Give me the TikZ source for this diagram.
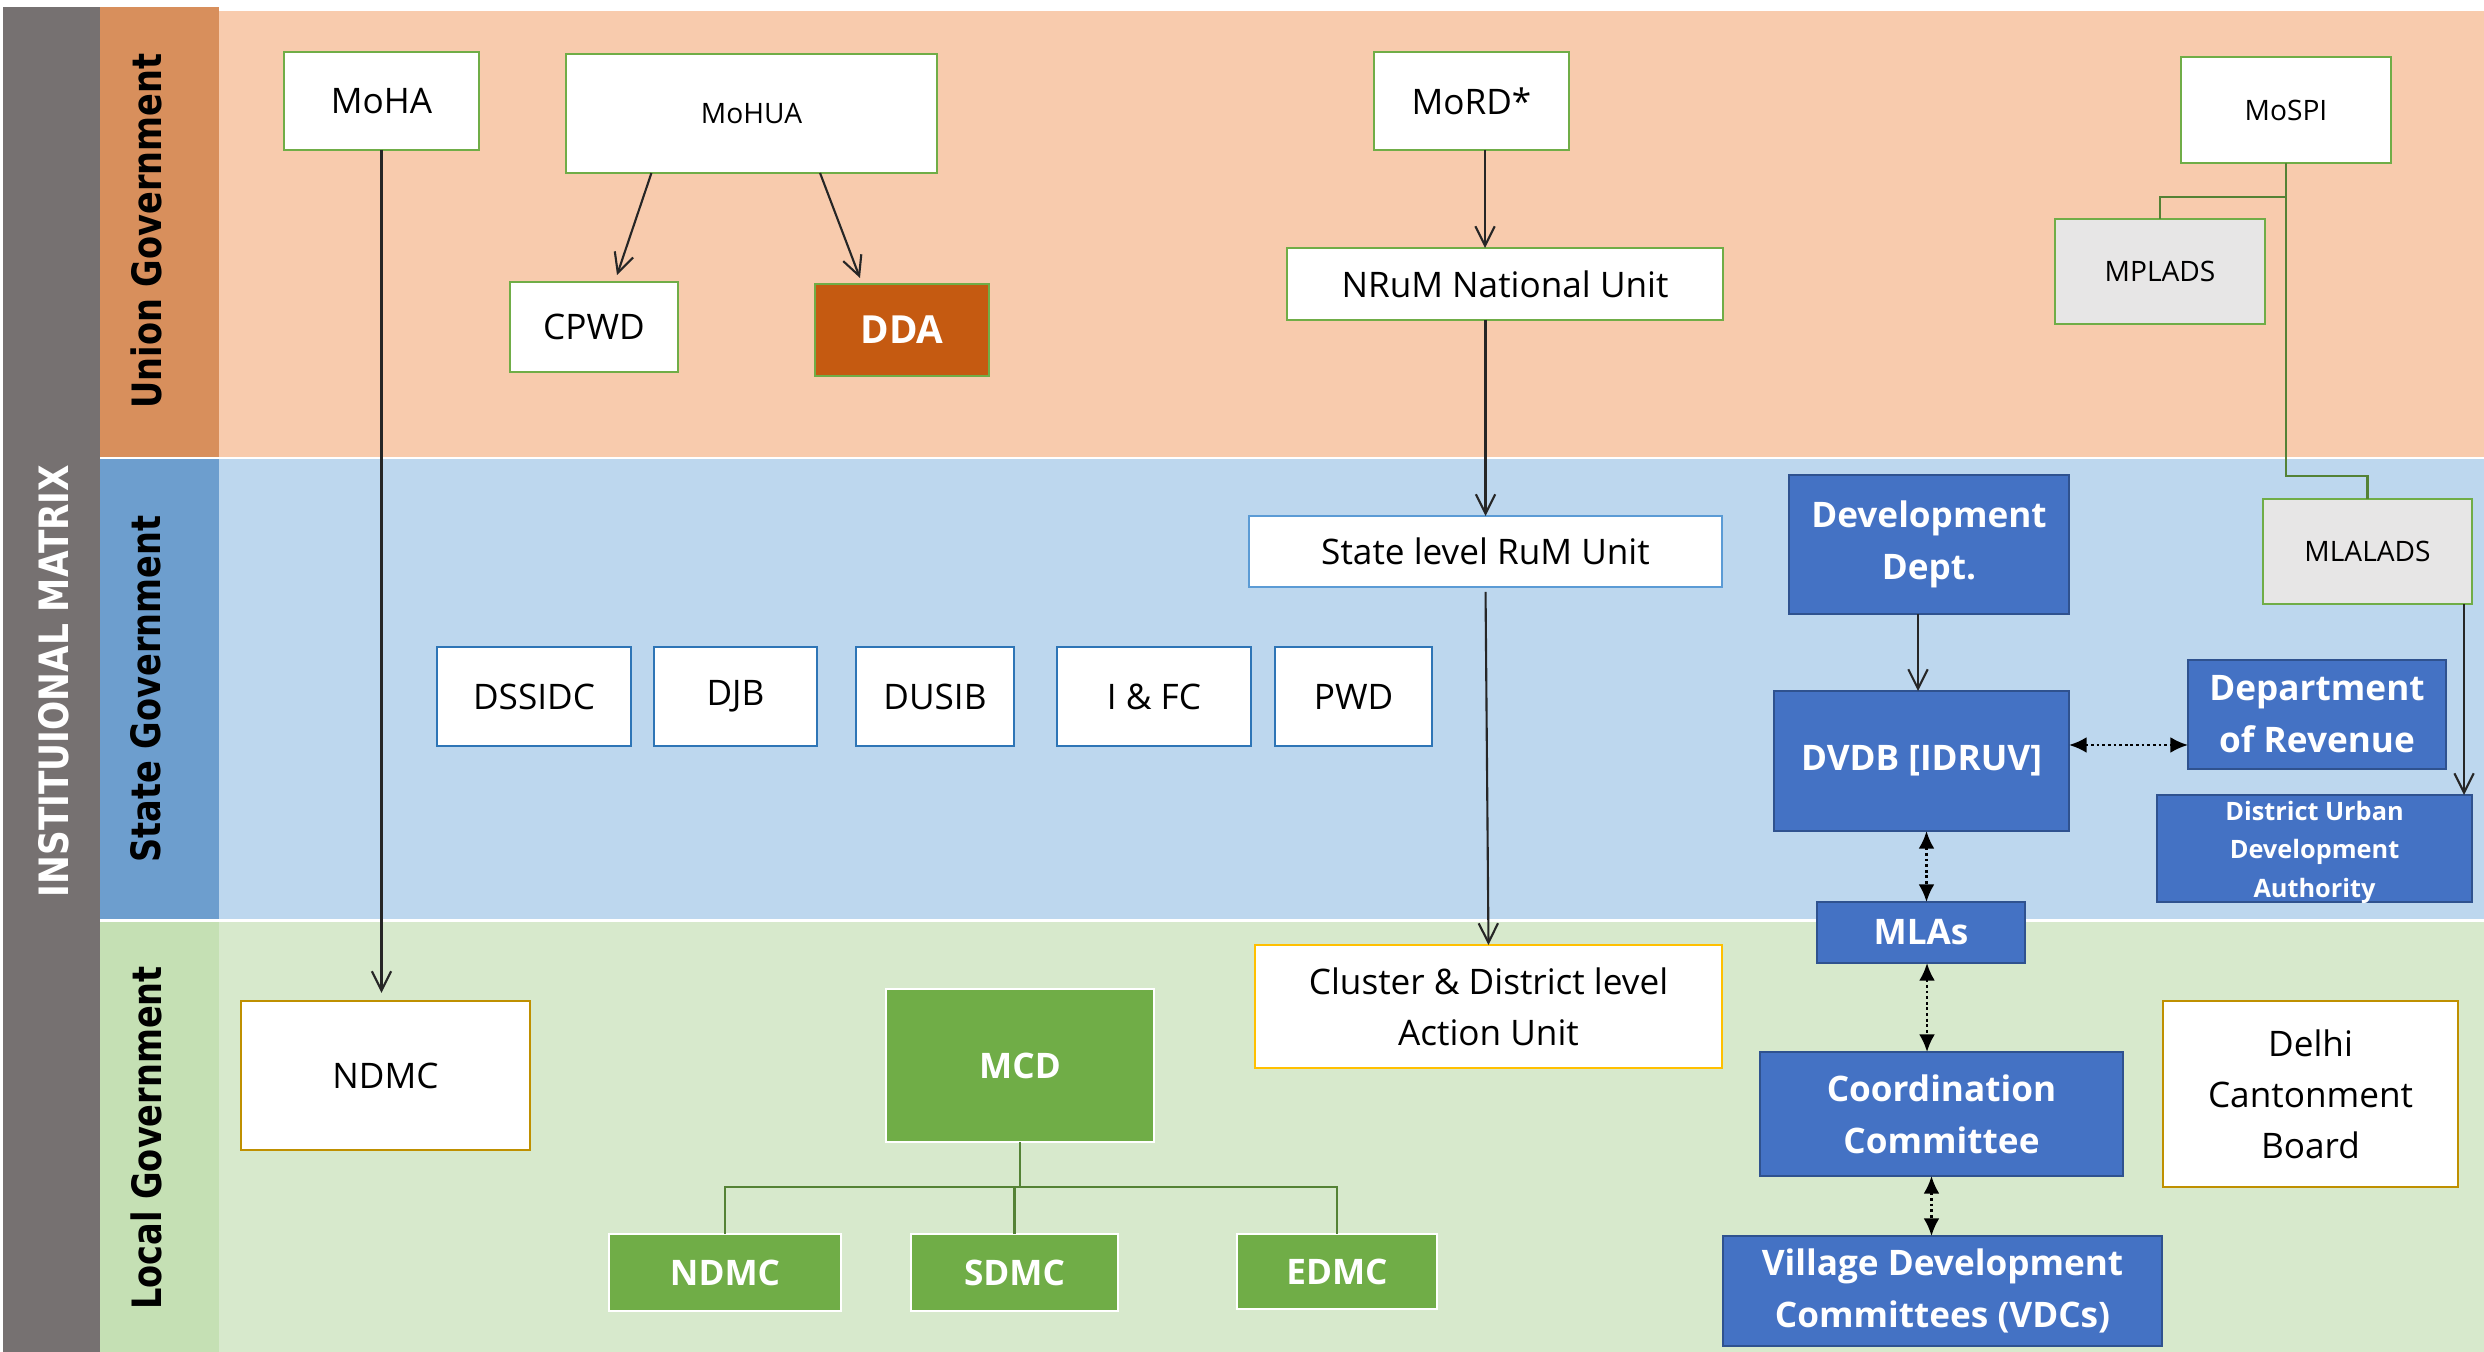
\documentclass[tikz,border=0pt]{standalone}
\usepackage{fontspec}
\setmainfont{Open Sans}
\newfontfamily\vfont{DejaVu Sans}
\usetikzlibrary{arrows.meta,calc}
\definecolor{cgrey}{HTML}{767171}
\definecolor{uL}{HTML}{D88F5C}
\definecolor{uB}{HTML}{F8CBAD}
\definecolor{sL}{HTML}{6D9ECE}
\definecolor{sB}{HTML}{BDD7EE}
\definecolor{lL}{HTML}{C5E0B4}
\definecolor{lB}{HTML}{D7E9CC}
\definecolor{gbord}{HTML}{70AD47}
\definecolor{gline}{HTML}{548235}
\definecolor{ddafill}{HTML}{C55A11}
\definecolor{sbord}{HTML}{2E75B6}
\definecolor{rbord}{HTML}{5B9BD5}
\definecolor{bfill}{HTML}{4472C4}
\definecolor{bbord}{HTML}{2F528F}
\definecolor{lbord}{HTML}{BF9000}
\definecolor{cbord}{HTML}{FFC000}
\definecolor{lgfill}{HTML}{E7E6E6}
\newcommand\fsA{\fontsize{10}{14.5}\selectfont}
\newcommand\fsB{\fontsize{8}{10}\selectfont}
\newcommand\fsC{\fontsize{10}{14.8}\selectfont\bfseries}
\newcommand\fsD{\fontsize{7.2}{10.9}\selectfont\bfseries}
\newcommand\fsE{\fontsize{11}{14}\selectfont\bfseries}
\newcommand\bx[7]{\node[#6, minimum width={(#4-#2)*0.01cm}, minimum height={(#5-#3)*0.01cm}] (#1) at ({(#2+#4)/2},{(#3+#5)/2}) {#7};}
\tikzset{
  box/.style={inner sep=0pt, outer sep=0pt, line width=0.7pt, align=center},
  ubox/.style={box, fill=white, draw=gbord, font=\fsA},
  usmall/.style={box, fill=white, draw=gbord, font=\fsB},
  graybox/.style={box, fill=lgfill, draw=gbord, font=\fsB},
  ddabox/.style={box, fill=ddafill, draw=gbord, text=white, font=\fsE},
  sbox/.style={box, fill=white, draw=sbord, font=\fsA},
  rbox/.style={box, fill=white, draw=rbord, font=\fsA},
  bbox/.style={box, fill=bfill, draw=bbord, text=white, font=\fsC},
  dbox/.style={box, fill=bfill, draw=bbord, text=white, font=\fsD},
  lbox/.style={box, fill=white, draw=lbord, font=\fsA},
  cbox/.style={box, fill=white, draw=cbord, font=\fsA},
  mbox/.style={box, fill=gbord, draw=white, text=white, font=\fsC},
  arr/.style={draw=black!85, line width=0.6pt, -{Straight Barb[length=5.5pt,width=5.5pt]}},
  darr/.style={draw=black, line width=0.7pt, dash pattern=on 0.8pt off 0.8pt, {Latex[length=5pt,width=4.5pt]}-{Latex[length=5pt,width=4.5pt]}},
  gl/.style={draw=gline, line width=0.8pt},
  lanelabel/.style={rotate=90, font=\vfont\fontsize{11.5}{12}\selectfont\bfseries, inner sep=0pt}
}
\begin{document}
\begin{tikzpicture}[x=0.01cm,y=-0.01cm]
\useasboundingbox (0,0) rectangle (2484,1352);
\fill[white] (0,0) rectangle (2484,1352);
% bands
\fill[cgrey] (3,7) rectangle (100,1352);
\fill[uL] (100,7) rectangle (219,457);
\fill[uB] (219,11) rectangle (2484,457);
\fill[sL] (100,459) rectangle (219,919);
\fill[sB] (219,459) rectangle (2484,919);
\fill[lL] (100,922) rectangle (219,1352);
\fill[lB] (219,922) rectangle (2484,1352);
% lane labels
\node[rotate=90, text=white, font=\vfont\fontsize{11.5}{12}\selectfont\bfseries, inner sep=0pt] (title) at (54,681) {\scalebox{0.85}[1]{INSTITUIONAL MATRIX}};
\node[lanelabel] (ulab) at (146,231) {\scalebox{0.83}[1]{Union Government}};
\node[lanelabel] (slab) at (146,689) {\scalebox{0.83}[1]{State Government}};
\node[lanelabel] (llab) at (146,1138) {\scalebox{0.83}[1]{Local Government}};
% union boxes
\bx{MoHA}{284}{52}{479}{150}{ubox}{MoHA}
\bx{MoHUA}{566}{54}{937}{173}{usmall}{MoHUA}
\bx{CPWD}{510}{282}{678}{372}{ubox}{CPWD}
\bx{DDA}{815}{284}{989}{376}{ddabox}{DDA}
\bx{MoRD}{1374}{52}{1569}{150}{ubox}{MoRD*}
\bx{NRuM}{1287}{248}{1723}{320}{ubox}{NRuM National Unit}
\bx{MoSPI}{2181}{57}{2391}{163}{usmall}{MoSPI}
\bx{MPLADS}{2055}{219}{2265}{324}{graybox}{MPLADS}
% state boxes
\bx{StateRuM}{1249}{516}{1722}{587}{rbox}{State level RuM Unit}
\bx{DSSIDC}{437}{647}{631}{746}{sbox}{DSSIDC}
\bx{DJB}{654}{647}{817}{746}{sbox}{DJB}
\bx{DUSIB}{856}{647}{1014}{746}{sbox}{DUSIB}
\bx{IFC}{1057}{647}{1251}{746}{sbox}{I \& FC}
\bx{PWD}{1275}{647}{1432}{746}{sbox}{PWD}
\bx{DevDept}{1789}{475}{2069}{614}{bbox}{Development\\Dept.}
\bx{DVDB}{1774}{691}{2069}{831}{bbox}{DVDB [IDRUV]}
\bx{MLALADS}{2263}{499}{2472}{604}{graybox}{MLALADS}
\bx{DeptRev}{2188}{660}{2446}{769}{bbox}{Department\\of Revenue}
\bx{DUDA}{2157}{795}{2472}{902}{dbox}{\raisebox{-2.5pt}[0pt][0pt]{\begin{tabular}{@{}c@{}}District Urban\\Development\\Authority\end{tabular}}}
\bx{MLAs}{1817}{902}{2025}{963}{bbox}{MLAs}
% local boxes
\bx{NDMCw}{241}{1001}{530}{1150}{lbox}{NDMC}
\bx{MCD}{886}{989}{1154}{1142}{mbox}{MCD}
\bx{NDMCg}{609}{1234}{841}{1311}{mbox}{NDMC}
\bx{SDMC}{911}{1234}{1118}{1311}{mbox}{SDMC}
\bx{EDMC}{1237}{1234}{1437}{1309}{mbox}{EDMC}
\bx{Cluster}{1255}{945}{1722}{1068}{cbox}{Cluster \& District level\\Action Unit}
\bx{CC}{1760}{1052}{2123}{1176}{bbox}{Coordination\\Committee}
\bx{VDC}{1723}{1236}{2162}{1346}{bbox}{Village Development\\Committees (VDCs)}
\bx{DCB}{2163}{1001}{2458}{1187}{lbox}{Delhi\\Cantonment\\Board}
% arrows
\draw[arr, shorten >=2.3pt] (MoHA.south) -- (MoHA.south |- NDMCw.north);
\draw[arr] ([xshift=-1cm]MoHUA.south) -- ([xshift=0.23cm,yshift=0.07cm]CPWD.north);
\draw[arr] ([xshift=0.685cm]MoHUA.south) -- ([xshift=-0.42cm,yshift=0.06cm]DDA.north);
\coordinate (mr) at ([xshift=0.135cm]MoRD.south);
\draw[arr] (mr) -- (mr |- NRuM.north);
\draw[arr] (StateRuM.north |- NRuM.south) -- (StateRuM.north);
\draw[arr, shorten <=1.4pt] (StateRuM.south) -- (Cluster.north);
\coordinate (dd) at ([xshift=-0.11cm]DevDept.south);
\draw[arr] (dd) -- (dd |- DVDB.north);
\coordinate (ml) at ([xshift=0.965cm]MLALADS.south);
\draw[arr] (ml) -- (ml |- DUDA.north);
% dotted double arrows
\coordinate (dv) at ([yshift=0.16cm]DVDB.east);
\draw[darr] (dv) -- (dv -| DeptRev.west);
\coordinate (dm) at ([xshift=0.05cm]DVDB.south);
\draw[darr] (dm) -- (dm |- MLAs.north);
\coordinate (mc2) at ([xshift=0.06cm]MLAs.south);
\draw[darr] (mc2) -- (mc2 |- CC.north);
\coordinate (cv) at ([xshift=-0.1cm]CC.south);
\draw[darr] (cv) -- (cv |- VDC.north);
% green connectors
\draw[gl] (MoSPI.south) -- ++(0,34) -| (MPLADS.north);
\draw[gl] (MoSPI.south) -- ++(0,313) -| (MLALADS.north);
\draw[gl] (MCD.south) -- ++(0,45) coordinate (mcj);
\draw[gl] (NDMCg.north) |- (EDMC.north |- mcj) -- (EDMC.north);
\draw[gl] (SDMC.north) -- (SDMC.north |- mcj);
\end{tikzpicture}
\end{document}
